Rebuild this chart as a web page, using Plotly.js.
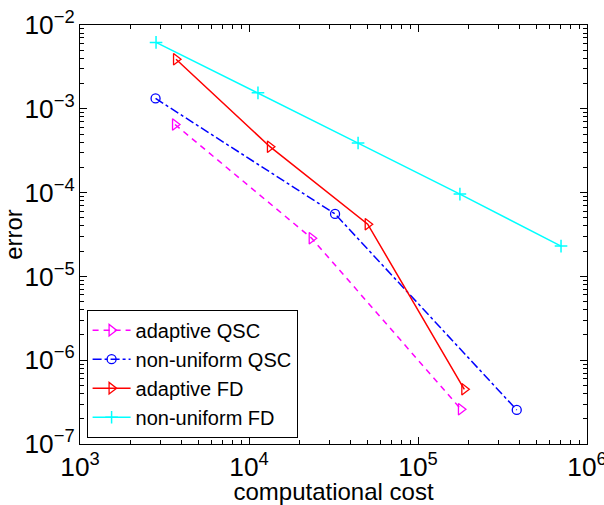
<!DOCTYPE html>
<html><head><meta charset="utf-8">
<script src="https://cdn.plot.ly/plotly-3.0.1.min.js"></script>
<style>body{margin:0;padding:0;background:#fff}#g{width:604px;height:505px}</style>
</head><body><div id="g"></div>
<script>
const names = ["adaptive QSC", "non-uniform QSC", "adaptive FD", "non-uniform FD"];
const aqscX = [3650, 23500, 179500];
const aqscY = [6.5e-4, 2.85e-5, 2.6e-7];
const nqscX = [2800, 32300, 384000];
const nqscY = [1.33e-3, 5.56e-5, 2.55e-7];
const afdX = [3700, 13300, 50400, 188000];
const afdY = [3.9e-3, 3.53e-4, 4.2e-5, 4.5e-7];
const nfdX = [2818, 11300, 44200, 177000, 702000];
const nfdY = [6.2e-3, 1.55e-3, 3.9e-4, 9.6e-5, 2.3e-5];

const FONT = 'Liberation Sans, Arial, sans-serif';
const traces = [
  {x: aqscX, y: aqscY, name: names[0], mode: 'lines+markers',
   line: {color: '#ff00ff', width: 1.5, dash: '6px,5px'},
   marker: {symbol: 'triangle-right-open', size: 10, color: '#ff00ff', line: {width: 1.3, color: '#ff00ff'}}},
  {x: nqscX, y: nqscY, name: names[1], mode: 'lines+markers',
   line: {color: '#0000ff', width: 1.5, dash: 'dashdot'},
   marker: {symbol: 'circle-open', size: 9, color: '#0000ff', line: {width: 1.3, color: '#0000ff'}}},
  {x: afdX, y: afdY, name: names[2], mode: 'lines+markers',
   line: {color: '#ff0000', width: 1.5},
   marker: {symbol: 'triangle-right-open', size: 10, color: '#ff0000', line: {width: 1.3, color: '#ff0000'}}},
  {x: nfdX, y: nfdY, name: names[3], mode: 'lines+markers',
   line: {color: '#00ffff', width: 1.5},
   marker: {symbol: 'cross-thin-open', size: 9, color: '#00ffff', line: {width: 1.5, color: '#00ffff'}}}
];

const axisCommon = {
  type: 'log', showline: true, linecolor: '#000', linewidth: 1.2, mirror: 'allticks',
  ticks: 'inside', ticklen: 7, tickcolor: '#000', tickwidth: 1, dtick: 1,
  exponentformat: 'power', showgrid: false, zeroline: false, ticklabeloverflow: 'allow',
  minor: {ticks: 'inside', ticklen: 4, tickcolor: '#000', dtick: 'D1', showgrid: false},
  tickfont: {family: FONT, size: 21, color: '#000'}
};

const layout = {
  width: 604, height: 505,
  margin: {l: 80, r: 17, t: 25, b: 61},
  paper_bgcolor: '#fff', plot_bgcolor: '#fff',
  font: {family: FONT, color: '#000'},
  showlegend: true,
  xaxis: Object.assign({}, axisCommon, {range: [3, 6],
    title: {text: 'computational cost', font: {family: FONT, size: 24, color: '#000'}, standoff: 5}}),
  yaxis: Object.assign({}, axisCommon, {range: [-7, -2],
    title: {text: 'error', font: {family: FONT, size: 24, color: '#000'}, standoff: 2}}),
  legend: {x: 0.013, y: 0.015, xanchor: 'left', yanchor: 'bottom',
    bgcolor: '#fff', bordercolor: '#000', borderwidth: 1,
    font: {family: FONT, size: 20, color: '#000'}, tracegroupgap: 0, itemwidth: 38}
};

Plotly.newPlot('g', traces, layout, {staticPlot: true, displayModeBar: false});
</script></body></html>
